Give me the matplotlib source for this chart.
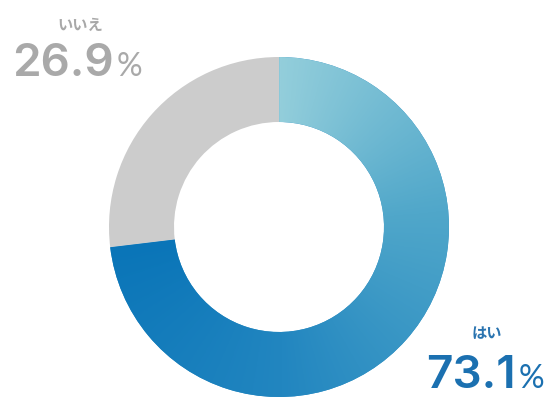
import numpy as np
import matplotlib
matplotlib.use("Agg")
import matplotlib.pyplot as plt
from matplotlib.colors import LinearSegmentedColormap

labels = ["はい", "いいえ"]
values = [73.1, 26.9]
value_texts = ["73.1", "26.9"]

W, H = 552, 399
fig = plt.figure(figsize=(W / 100, H / 100), dpi=100)
ax = fig.add_axes([0, 0, 1, 1])

cx, cy, R, ring = 279, 172, 170, 65

wedges, _ = ax.pie(values, startangle=90, counterclock=False,
                   colors=["#2a8cc4", "#cccccc"], center=(cx, cy), radius=R,
                   wedgeprops=dict(width=ring, linewidth=0), frame=True)
ax.set_xlim(0, W)
ax.set_ylim(0, H)
ax.set_aspect("equal")
ax.axis("off")

# angular gradient along the sweep of the first wedge
sweep = 360 * values[0] / sum(values)
cmap = LinearSegmentedColormap.from_list(
    "ring", [(0.0, "#93cedb"), (0.32, "#50a7ca"), (0.68, "#2286c0"), (1.0, "#0a75b8")])
xs = np.linspace(cx - R, cx + R, 400)
ys = np.linspace(cy - R, cy + R, 400)
X, Y = np.meshgrid(xs, ys)
ang = np.degrees(np.arctan2(Y - cy, X - cx))
t = ((90 - ang) % 360) / sweep
t = np.clip(t, 0, 1)
im = ax.imshow(t, cmap=cmap, extent=(cx - R, cx + R, cy - R, cy + R),
               origin="lower", vmin=0, vmax=1, zorder=3, interpolation="bilinear")
im.set_clip_path(wedges[0])
ax.set_xlim(0, W)
ax.set_ylim(0, H)

fig.canvas.draw()
renderer = fig.canvas.get_renderer()

num_font = ["Inter", "DejaVu Sans"]
pct_font = ["Lato", "DejaVu Sans"]
jp_font = ["Noto Sans CJK JP", "DejaVu Sans"]


def value_label(x, y, txt, color):
    t1 = ax.text(x, y, txt, fontsize=33, fontweight="semibold", family=num_font,
                 color=color, ha="left", va="baseline")
    bb = t1.get_window_extent(renderer=renderer)
    inv = ax.transData.inverted()
    x1 = inv.transform((bb.x1, bb.y0))[0]
    ax.text(x1 + 3, y, "%", fontsize=23, fontweight="normal", family=pct_font,
            color=color, ha="left", va="baseline")


# はい
ax.text(487, 66, labels[0], fontsize=11, fontweight="bold", family=jp_font,
        color="#2a74b0", ha="center", va="center")
value_label(426, 11, value_texts[0], "#1b70b0")

# いいえ
ax.text(80, 374, labels[1], fontsize=11, fontweight="bold", family=jp_font,
        color="#a8a8a8", ha="center", va="center")
value_label(12, 323, value_texts[1], "#a9a9a9")

fig.savefig("out.png", dpi=100)
